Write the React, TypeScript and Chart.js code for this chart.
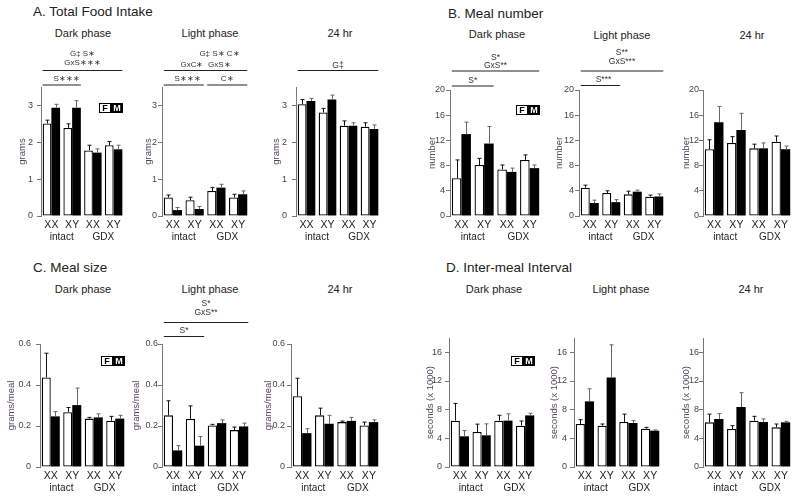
import React, { useEffect, useRef } from "react";
import { Chart, registerables } from "chart.js";
Chart.register(...registerables);

const FONT = "'Liberation Sans', Arial, Helvetica, sans-serif";

const groupLabels = ["XX", "XY", "XX", "XY"];
const conditionLabels = ["intact", "GDX"];
const seriesNames = ["F", "M"];

// A. Total Food Intake (grams)
const foodDarkF = [2.51, 2.39, 1.78, 1.92];
const foodDarkFErr = [0.09, 0.11, 0.14, 0.1];
const foodDarkM = [2.94, 2.94, 1.72, 1.81];
const foodDarkMErr = [0.09, 0.19, 0.1, 0.11];
const foodLightF = [0.5, 0.43, 0.68, 0.5];
const foodLightFErr = [0.07, 0.08, 0.09, 0.09];
const foodLightM = [0.16, 0.19, 0.77, 0.59];
const foodLightMErr = [0.07, 0.07, 0.09, 0.09];
const food24F = [3.03, 2.81, 2.45, 2.42];
const food24FErr = [0.13, 0.11, 0.13, 0.11];
const food24M = [3.12, 3.16, 2.45, 2.36];
const food24MErr = [0.07, 0.12, 0.08, 0.11];

// B. Meal number
const numDarkF = [6.0, 8.1, 7.4, 8.9];
const numDarkFErr = [2.9, 1.05, 0.7, 0.8];
const numDarkM = [13.0, 11.5, 7.0, 7.6];
const numDarkMErr = [1.9, 2.7, 0.6, 0.5];
const numLightF = [4.5, 3.65, 3.44, 3.07];
const numLightFErr = [0.4, 0.35, 0.5, 0.25];
const numLightM = [2.06, 2.2, 3.86, 3.1];
const numLightMErr = [0.45, 0.4, 0.25, 0.4];
const num24F = [10.6, 11.6, 10.74, 11.8];
const num24FErr = [1.5, 1.0, 0.66, 0.9];
const num24M = [14.9, 13.65, 10.74, 10.6];
const num24MErr = [2.5, 2.65, 0.86, 0.5];

// C. Meal size (grams/meal)
const sizeDarkF = [0.437, 0.267, 0.236, 0.226];
const sizeDarkFErr = [0.118, 0.023, 0.006, 0.021];
const sizeDarkM = [0.247, 0.302, 0.242, 0.236];
const sizeDarkMErr = [0.023, 0.083, 0.017, 0.016];
const sizeLightF = [0.252, 0.235, 0.203, 0.18];
const sizeLightFErr = [0.071, 0.063, 0.005, 0.015];
const sizeLightM = [0.081, 0.104, 0.214, 0.198];
const sizeLightMErr = [0.023, 0.045, 0.016, 0.016];
const size24F = [0.345, 0.252, 0.219, 0.203];
const size24FErr = [0.088, 0.035, 0.005, 0.016];
const size24M = [0.165, 0.211, 0.225, 0.219];
const size24MErr = [0.022, 0.041, 0.017, 0.011];

// D. Inter-meal interval (seconds x 1000)
const imiDarkF = [6.47, 4.88, 6.47, 5.77];
const imiDarkFErr = [2.4, 1.1, 0.75, 0.65];
const imiDarkM = [4.28, 4.42, 6.47, 7.2];
const imiDarkMErr = [0.8, 1.6, 0.95, 0.3];
const imiLightF = [6.0, 5.77, 6.28, 5.35];
const imiLightFErr = [0.6, 0.23, 1.1, 0.18];
const imiLightM = [9.16, 12.5, 6.14, 5.07];
const imiLightMErr = [1.75, 4.55, 0.33, 0.1];
const imi24F = [6.23, 5.3, 6.47, 5.53];
const imi24FErr = [1.15, 0.47, 0.6, 0.47];
const imi24M = [6.7, 8.37, 6.28, 6.23];
const imi24MErr = [0.75, 2.0, 0.42, 0.14];

type AnnText = { t: string; y: number; dx?: number };
type Ann = { texts: AnnText[]; lineY: number; from: number; to: number };

type PanelCfg = {
  F: number[]; Ferr: number[]; M: number[]; Merr: number[];
  axisX: number; right: number; top: number; bottom: number;
  rowTop: number; rowBottom: number;
  yMax: number; step: number; decimals: number;
  yTitle: string; titleOffset: number; labelGap: number;
  legendY?: number; anns?: Ann[]; annSize?: number;
};

const ROW1 = { rowTop: 40, rowBottom: 245, bottom: 216 };
const ROW2 = { rowTop: 295, rowBottom: 497, bottom: 467 };
const CANVAS_PAD_LEFT = 40;

const panels: PanelCfg[] = [
  {
    F: foodDarkF, Ferr: foodDarkFErr, M: foodDarkM, Merr: foodDarkMErr,
    axisX: 41, right: 124, top: 87, ...ROW1, yMax: 3.5, step: 1, decimals: 0,
    yTitle: "grams", titleOffset: 19, labelGap: 8, legendY: 103, annSize: 8,
    anns: [
      { texts: [{ t: "G‡ S∗", y: 53.5 }, { t: "GxS∗∗∗", y: 63 }], lineY: 70.5, from: 0, to: 3 },
      { texts: [{ t: "S∗∗∗", y: 79, dx: 5 }], lineY: 85, from: 0, to: 1 },
    ],
  },
  {
    F: foodLightF, Ferr: foodLightFErr, M: foodLightM, Merr: foodLightMErr,
    axisX: 162, right: 249, top: 87, ...ROW1, yMax: 3.5, step: 1, decimals: 0,
    yTitle: "grams", titleOffset: 14, labelGap: 5, annSize: 8,
    anns: [
      { texts: [{ t: "G‡ S∗ C∗", y: 54, dx: 14 }, { t: "GxC∗  GxS∗", y: 64.5 }], lineY: 70.5, from: 0, to: 3 },
      { texts: [{ t: "S∗∗∗", y: 78.5, dx: 4 }], lineY: 85, from: 0, to: 1 },
      { texts: [{ t: "C∗", y: 78.5 }], lineY: 85, from: 2, to: 3 },
    ],
  },
  {
    F: food24F, Ferr: food24FErr, M: food24M, Merr: food24MErr,
    axisX: 296, right: 380, top: 87, ...ROW1, yMax: 3.5, step: 1, decimals: 0,
    yTitle: "grams", titleOffset: 20, labelGap: 9, annSize: 8.5,
    anns: [{ texts: [{ t: "G‡", y: 65.5 }], lineY: 70.5, from: 0, to: 3 }],
  },
  {
    F: numDarkF, Ferr: numDarkFErr, M: numDarkM, Merr: numDarkMErr,
    axisX: 450, right: 541, top: 90, ...ROW1, yMax: 20, step: 4, decimals: 0,
    yTitle: "number", titleOffset: 18, labelGap: 5, legendY: 105, annSize: 8.5,
    anns: [
      { texts: [{ t: "S*", y: 57.5 }, { t: "GxS**", y: 65.5 }], lineY: 71, from: 0, to: 3 },
      { texts: [{ t: "S*", y: 80.5 }], lineY: 86, from: 0, to: 1 },
    ],
  },
  {
    F: numLightF, Ferr: numLightFErr, M: numLightM, Merr: numLightMErr,
    axisX: 579, right: 665, top: 90, ...ROW1, yMax: 20, step: 4, decimals: 0,
    yTitle: "number", titleOffset: 20, labelGap: 5, annSize: 8.5,
    anns: [
      { texts: [{ t: "S**", y: 52.5 }, { t: "GxS***", y: 62 }], lineY: 71, from: 0, to: 3 },
      { texts: [{ t: "S***", y: 80, dx: 3 }], lineY: 85.5, from: 0, to: 1 },
    ],
  },
  {
    F: num24F, Ferr: num24FErr, M: num24M, Merr: num24MErr,
    axisX: 703, right: 792, top: 90, ...ROW1, yMax: 20, step: 4, decimals: 0,
    yTitle: "number", titleOffset: 17, labelGap: 4,
  },
  {
    F: sizeDarkF, Ferr: sizeDarkFErr, M: sizeDarkM, Merr: sizeDarkMErr,
    axisX: 40, right: 126, top: 344, ...ROW2, yMax: 0.6, step: 0.2, decimals: 1,
    yTitle: "grams/meal", titleOffset: 29, labelGap: 9, legendY: 356,
  },
  {
    F: sizeLightF, Ferr: sizeLightFErr, M: sizeLightM, Merr: sizeLightMErr,
    axisX: 162, right: 250, top: 344, ...ROW2, yMax: 0.6, step: 0.2, decimals: 1,
    yTitle: "grams/meal", titleOffset: 26, labelGap: 4, annSize: 8.5,
    anns: [
      { texts: [{ t: "S*", y: 303.5 }, { t: "GxS**", y: 312.5 }], lineY: 322.5, from: 0, to: 3 },
      { texts: [{ t: "S*", y: 331 }], lineY: 336.5, from: 0, to: 1 },
    ],
  },
  {
    F: size24F, Ferr: size24FErr, M: size24M, Merr: size24MErr,
    axisX: 291, right: 380, top: 344, ...ROW2, yMax: 0.6, step: 0.2, decimals: 1,
    yTitle: "grams/meal", titleOffset: 23, labelGap: 6,
  },
  {
    F: imiDarkF, Ferr: imiDarkFErr, M: imiDarkM, Merr: imiDarkMErr,
    axisX: 449, right: 536, top: 338, ...ROW2, yMax: 18, step: 4, decimals: 0,
    yTitle: "seconds (x 1000)", titleOffset: 19, labelGap: 7, legendY: 356,
  },
  {
    F: imiLightF, Ferr: imiLightFErr, M: imiLightM, Merr: imiLightMErr,
    axisX: 574, right: 661, top: 338, ...ROW2, yMax: 18, step: 4, decimals: 0,
    yTitle: "seconds (x 1000)", titleOffset: 20, labelGap: 7,
  },
  {
    F: imi24F, Ferr: imi24FErr, M: imi24M, Merr: imi24MErr,
    axisX: 703, right: 792, top: 338, ...ROW2, yMax: 18, step: 4, decimals: 0,
    yTitle: "seconds (x 1000)", titleOffset: 17, labelGap: 4,
  },
];

const mainTitles = [
  { t: "A. Total Food Intake", x: 33, y: 12 },
  { t: "B. Meal number", x: 448, y: 14 },
  { t: "C. Meal size", x: 33, y: 268 },
  { t: "D. Inter-meal Interval", x: 446, y: 268 },
];

const subTitles = [
  { t: "Dark phase", x: 83, y: 33 },
  { t: "Light phase", x: 210, y: 33 },
  { t: "24 hr", x: 340, y: 33 },
  { t: "Dark phase", x: 497, y: 34 },
  { t: "Light phase", x: 622, y: 35 },
  { t: "24 hr", x: 752, y: 35 },
  { t: "Dark phase", x: 83, y: 289 },
  { t: "Light phase", x: 210, y: 289 },
  { t: "24 hr", x: 340, y: 289 },
  { t: "Dark phase", x: 494, y: 289 },
  { t: "Light phase", x: 621, y: 289 },
  { t: "24 hr", x: 751, y: 289 },
];

function Panel({ cfg }: { cfg: PanelCfg }) {
  const ref = useRef<HTMLCanvasElement | null>(null);
  const left = Math.max(0, cfg.axisX - CANVAS_PAD_LEFT);
  const padLeft = cfg.axisX - left;
  const width = cfg.right - left + 1;
  const height = cfg.rowBottom - cfg.rowTop;

  useEffect(() => {
    if (!ref.current) return;
    const decor = {
      id: "panelDecor",
      afterDatasetsDraw(chart: any) {
        const ctx = chart.ctx;
        const ys = chart.scales.y;
        const sets: [number[], number[], string][] = [
          [cfg.F, cfg.Ferr, "#111"],
          [cfg.M, cfg.Merr, "#666"],
        ];
        sets.forEach(([vals, errs, col], di) => {
          const meta = chart.getDatasetMeta(di);
          meta.data.forEach((el: any, j: number) => {
            const x = Math.round(el.x) + 0.5;
            const yb = el.y;
            const yt = ys.getPixelForValue(vals[j] + errs[j]);
            ctx.save();
            ctx.strokeStyle = col;
            ctx.lineWidth = 1;
            ctx.beginPath();
            ctx.moveTo(x, yb);
            ctx.lineTo(x, yt);
            ctx.moveTo(x - 2, yt);
            ctx.lineTo(x + 2, yt);
            ctx.stroke();
            ctx.restore();
          });
        });
      },
      afterDraw(chart: any) {
        const ctx = chart.ctx;
        const xs = chart.scales.x;
        const area = chart.chartArea;
        const m0 = chart.getDatasetMeta(0);
        const m1 = chart.getDatasetMeta(1);
        ctx.save();
        // x labels
        ctx.fillStyle = "#222";
        ctx.textAlign = "center";
        ctx.textBaseline = "middle";
        ctx.font = `10.5px ${FONT}`;
        groupLabels.forEach((g, i) => {
          ctx.fillText(g, xs.getPixelForValue(i), area.bottom + 9.5);
        });
        ctx.font = `10px ${FONT}`;
        conditionLabels.forEach((c, k) => {
          const cx = (xs.getPixelForValue(2 * k) + xs.getPixelForValue(2 * k + 1)) / 2;
          ctx.fillText(c, cx, area.bottom + 21);
        });
        // y title
        ctx.save();
        ctx.translate(area.left - cfg.titleOffset, (area.top + area.bottom) / 2);
        ctx.rotate(-Math.PI / 2);
        ctx.fillStyle = "#54445a";
        ctx.font = `9.5px ${FONT}`;
        ctx.fillText(cfg.yTitle, 0, 0);
        ctx.restore();
        // annotations
        (cfg.anns || []).forEach((a) => {
          const e0 = m0.data[a.from];
          const e1 = m1.data[a.to];
          const x0 = e0.x - e0.width / 2;
          const x1 = e1.x + e1.width / 2;
          const ly = a.lineY - cfg.rowTop;
          ctx.strokeStyle = "#222";
          ctx.lineWidth = 1.2;
          ctx.beginPath();
          ctx.moveTo(x0, ly);
          ctx.lineTo(x1, ly);
          ctx.stroke();
          ctx.fillStyle = "#333";
          ctx.font = `${cfg.annSize || 9}px ${FONT}`;
          a.texts.forEach((tx) => {
            ctx.fillText(tx.t, (x0 + x1) / 2 + (tx.dx || 0), tx.y - cfg.rowTop);
          });
        });
        // legend
        if (cfg.legendY !== undefined) {
          const lt = cfg.legendY - cfg.rowTop;
          const w = 12;
          const h = 10;
          const rx = Math.round(area.right - 2 * w - 1);
          ctx.fillStyle = "#fff";
          ctx.fillRect(rx, lt, w, h);
          ctx.strokeStyle = "#000";
          ctx.lineWidth = 1;
          ctx.strokeRect(rx + 0.5, lt + 0.5, w - 1, h - 1);
          ctx.fillStyle = "#000";
          ctx.fillRect(rx + w, lt, w, h);
          ctx.font = `bold 9px ${FONT}`;
          ctx.fillStyle = "#000";
          ctx.fillText(seriesNames[0], rx + w / 2, lt + h / 2 + 0.5);
          ctx.fillStyle = "#fff";
          ctx.fillText(seriesNames[1], rx + w + w / 2, lt + h / 2 + 0.5);
        }
        ctx.restore();
      },
    };

    const chart = new Chart(ref.current, {
      type: "bar",
      data: {
        labels: groupLabels.map((g, i) => `${g} ${conditionLabels[i < 2 ? 0 : 1]}`),
        datasets: [
          {
            label: seriesNames[0],
            data: cfg.F,
            backgroundColor: "#ffffff",
            borderColor: "#000000",
            borderWidth: 1.3,
            borderSkipped: false,
            categoryPercentage: 0.84,
            barPercentage: 1,
          },
          {
            label: seriesNames[1],
            data: cfg.M,
            backgroundColor: "#000000",
            borderColor: "#000000",
            borderWidth: 0,
            categoryPercentage: 0.84,
            barPercentage: 1,
          },
        ],
      },
      options: {
        animation: false,
        responsive: false,
        devicePixelRatio: 1,
        layout: { padding: { top: cfg.top - cfg.rowTop, right: 1, left: 0, bottom: 0 } },
        plugins: {
          legend: { display: false },
          tooltip: { enabled: false },
          title: { display: false },
        },
        scales: {
          x: {
            type: "category",
            grid: { display: false },
            border: { display: false },
            ticks: { display: false },
            afterFit: (s: any) => {
              s.height = cfg.rowBottom - cfg.bottom;
            },
          },
          y: {
            min: 0,
            max: cfg.yMax,
            grid: {
              display: true,
              drawOnChartArea: false,
              drawTicks: true,
              tickLength: 4,
              color: "#777",
              lineWidth: 1,
            },
            border: { display: true, color: "#777", width: 1 },
            ticks: {
              stepSize: cfg.step,
              includeBounds: false,
              padding: Math.max(0, cfg.labelGap - 4),
              color: "#444",
              font: { size: 9, family: FONT },
              callback: (v: any) => (Number(v) === 0 ? "0" : Number(v).toFixed(cfg.decimals)),
            },
            afterFit: (s: any) => {
              s.width = padLeft;
            },
          },
        },
      },
      plugins: [decor],
    } as any);
    return () => chart.destroy();
  }, []);

  return (
    <canvas
      ref={ref}
      width={width}
      height={height}
      style={{ position: "absolute", left, top: cfg.rowTop, width, height }}
    />
  );
}

export default function App() {
  return (
    <div
      style={{
        position: "absolute",
        left: 0,
        top: 0,
        width: 800,
        height: 500,
        background: "#fff",
        overflow: "hidden",
        fontFamily: FONT,
        color: "#222",
      }}
    >
      {mainTitles.map((m, i) => (
        <div
          key={"m" + i}
          style={{
            position: "absolute",
            left: m.x,
            top: m.y,
            transform: "translateY(-50%)",
            fontSize: 13.5,
            whiteSpace: "nowrap",
            lineHeight: 1,
          }}
        >
          {m.t}
        </div>
      ))}
      {subTitles.map((s, i) => (
        <div
          key={"s" + i}
          style={{
            position: "absolute",
            left: s.x,
            top: s.y,
            transform: "translate(-50%, -50%)",
            fontSize: 11,
            whiteSpace: "nowrap",
            lineHeight: 1,
          }}
        >
          {s.t}
        </div>
      ))}
      {panels.map((p, i) => (
        <Panel key={i} cfg={p} />
      ))}
    </div>
  );
}
